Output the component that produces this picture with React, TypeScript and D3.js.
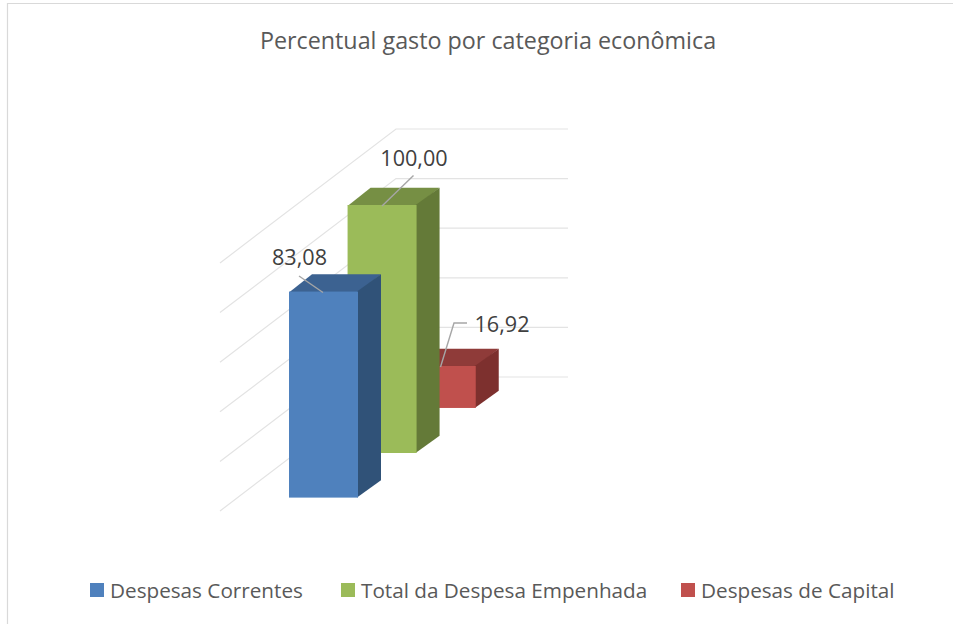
import React from "react";
import * as d3 from "d3";

const title = "Percentual gasto por categoria econômica";
const categories = ["Despesas Correntes", "Total da Despesa Empenhada", "Despesas de Capital"];
const values = [83.08, 100.0, 16.92];
const valueLabels = ["83,08", "100,00", "16,92"];
const axisTicks = [0, 20, 40, 60, 80, 100];
const frontColors = ["#4f81bd", "#9bbb59", "#c0504d"];
const topColors = ["#3c6291", "#768f44", "#8f3b39"];
const sideColors = ["#305278", "#647a38", "#7d302e"];
const categoryDepth = [0.1, 0.4328, 0.769];

const FONT = "'Open Sans', sans-serif";
const TEXT = "#595959";

const yOffset = d3.scaleLinear().domain([0, 100]).range([0, -248]);
const floorX = d3.scaleLinear().domain([0, 1]).range([220, 396]);
const floorY = d3.scaleLinear().domain([0, 1]).range([511, 377]);
const BAR_W = 69;
const BAR_INSET = 51.4;
const DX = 23;
const DY = -17.3;
const WALL_RIGHT = 568;
const SEAM = 1;

const poly = (pts: [number, number][]) => d3.line()(pts) + "Z";

const leaders: [number, number][][] = [
  [[299, 276], [323, 292.5]],
  [[413.5, 175.5], [382, 206]],
  [[467, 323], [454, 323], [440.5, 367]],
];
const labelPos: [number, number][] = [[299.5, 257], [414, 158], [502, 324.5]];
const legendSwatchX = [90, 341, 681];

export default function App() {
  const order = [2, 1, 0];
  return (
    <svg width={953} height={624} style={{ position: "absolute", left: 0, top: 0, background: "#fff" }} fontFamily={FONT}>
      <path d="M7.5 624V3.5H953" fill="none" stroke="#d9d9d9" strokeWidth={1.2} />
      <text x={488} y={49} textAnchor="middle" fontSize={23.3} fill={TEXT}>{title}</text>

      <g stroke="#e3e3e3" strokeWidth={1.2} fill="none">
        {axisTicks.map((t) => {
          const d = yOffset(t);
          return (
            <path key={t} d={d3.line()([
              [floorX(0), floorY(0) + d],
              [floorX(1), floorY(1) + d],
              [WALL_RIGHT, floorY(1) + d],
            ]) as string} />
          );
        })}
      </g>

      {order.map((i) => {
        const x0 = floorX(categoryDepth[i]) + BAR_INSET;
        const yb = floorY(categoryDepth[i]);
        const top = yb + yOffset(values[i]);
        const x1 = x0 + BAR_W;
        return (
          <g key={i}>
            <path d={poly([[x0, top + SEAM], [x1, top + SEAM], [x1 + DX, top + DY], [x0 + DX, top + DY]])} fill={topColors[i]} />
            <path d={poly([[x1 - SEAM, top], [x1 + DX, top + DY], [x1 + DX, yb + DY], [x1 - SEAM, yb]])} fill={sideColors[i]} />
            <rect x={x0} y={top} width={BAR_W} height={yb - top} fill={frontColors[i]} />
          </g>
        );
      })}

      {leaders.map((pts, i) => (
        <path key={i} d={d3.line()(pts) as string} fill="none" stroke="#a6a6a6" strokeWidth={1.4} />
      ))}
      {valueLabels.map((l, i) => (
        <text key={l} x={labelPos[i][0]} y={labelPos[i][1] + 7.5} textAnchor="middle" fontSize={21.6} fill="#404040">{l}</text>
      ))}

      {categories.map((c, i) => (
        <g key={c}>
          <rect x={legendSwatchX[i]} y={583} width={14} height={14} fill={frontColors[i]} />
          <text x={legendSwatchX[i] + 20} y={597.5} fontSize={20.7} fill={TEXT}>{c}</text>
        </g>
      ))}
    </svg>
  );
}
